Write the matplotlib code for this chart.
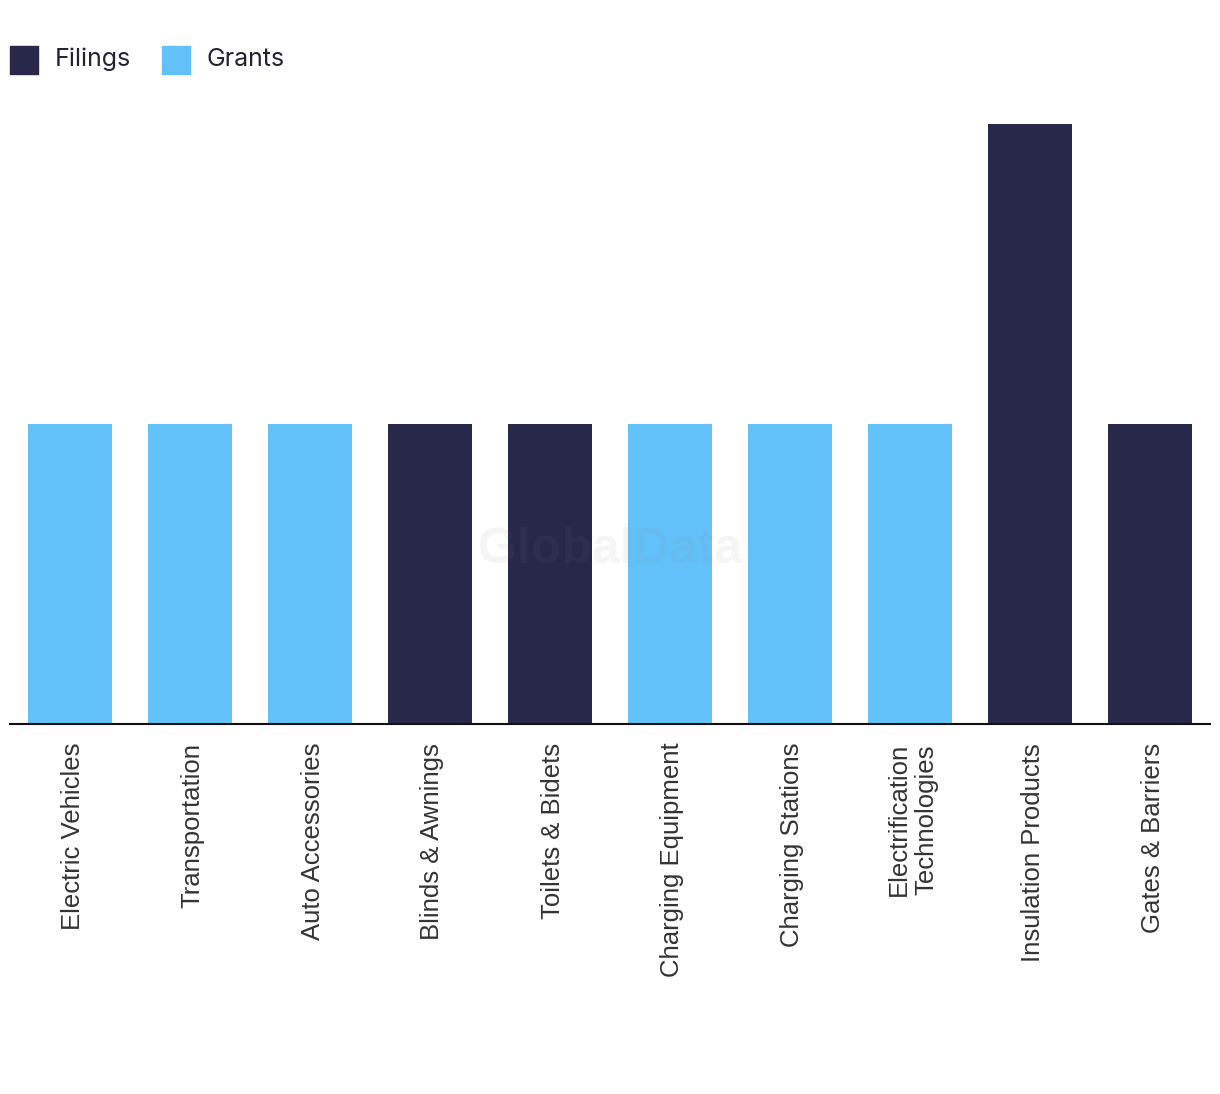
import matplotlib
matplotlib.use("Agg")
import matplotlib.pyplot as plt
from matplotlib.patches import Rectangle
from matplotlib.transforms import ScaledTranslation
import numpy as np

categories = ["Electric Vehicles", "Transportation", "Auto Accessories", "Blinds & Awnings",
              "Toilets & Bidets", "Charging Equipment", "Charging Stations",
              "Electrification\nTechnologies", "Insulation Products", "Gates & Barriers"]
filings = [0, 0, 0, 1, 1, 0, 0, 0, 2, 1]
grants = [1, 1, 1, 0, 0, 1, 1, 1, 0, 0]
series_names = ["Filings", "Grants"]

DARK = "#27284a"
LIGHT = "#62c1f9"

W, H = 1220, 1094
fig = plt.figure(figsize=(W / 100, H / 100), dpi=100)
ax = fig.add_axes([10 / W, 1 - 724 / H, 1200 / W, 600 / H])

x = np.arange(len(categories))
ax.bar(x, filings, width=0.7, color=DARK, zorder=2)
ax.bar(x, grants, width=0.7, bottom=filings, color=LIGHT, zorder=2)

ax.set_xlim(-0.5, len(categories) - 0.5)
ax.set_ylim(0, 2)
for s in ["top", "right", "left"]:
    ax.spines[s].set_visible(False)
ax.spines["bottom"].set_color("#111111")
ax.spines["bottom"].set_linewidth(1.5)
ax.spines["bottom"].set_zorder(3)
ax.set_yticks([])
ax.set_xticks(x)
ax.set_xticklabels(categories, rotation=90, fontsize=18.5, color="#333333",
                   family=["Liberation Sans", "DejaVu Sans"], ha="center", va="top",
                   multialignment="center")
ax.tick_params(axis="x", length=0, pad=13.5)
shift = ScaledTranslation(2.5 / 100, 0, fig.dpi_scale_trans)
for lbl in ax.get_xticklabels():
    lbl.set_transform(lbl.get_transform() + shift)

# watermark
ax.text(0.5, 0.29, "GlobalData", transform=ax.transAxes, ha="center", va="center",
        fontsize=36, fontweight="bold", color="#888888", alpha=0.08,
        family=["Liberation Sans", "DejaVu Sans"], zorder=4)

# legend
for name, col, xs, xt in [(series_names[0], DARK, 10, 55), (series_names[1], LIGHT, 162, 207)]:
    fig.patches.append(Rectangle((xs / W, 1 - 74 / H), 28 / W, 28 / H,
                                 transform=fig.transFigure, color=col))
    fig.text(xt / W, 1 - 59 / H, name, fontsize=18, color="#222233",
             family=["Inter", "DejaVu Sans"], va="center", ha="left")

fig.savefig("out.png", dpi=100)
